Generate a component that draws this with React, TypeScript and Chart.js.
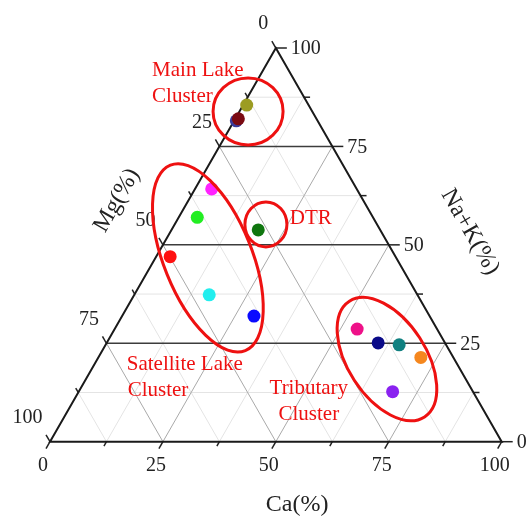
import { useEffect, useRef } from "react";
import { Chart, registerables } from "chart.js";

Chart.register(...registerables);

// ---- Data (ternary: Ca, Mg, Na+K in %) ----
const SAMPLE_CA = [0.5, 0.8, 0.7, 3.7, 4.1, 19.2, 3.1, 16.6, 29.2, 53.7, 60.1, 65.0, 71.4, 69.5];
const SAMPLE_MG = [18.0, 13.7, 17.3, 32.1, 38.9, 27.0, 49.9, 46.1, 38.9, 17.7, 14.8, 10.4, 7.2, 17.8];
const SAMPLE_NAK = [81.5, 85.5, 82.0, 64.2, 57.0, 53.8, 47.0, 37.3, 31.9, 28.6, 25.1, 24.6, 21.4, 12.7];
const SAMPLE_COLORS = [
  "#3a3a9a", "#9c9c22", "#7a0a12", "#ff22ff", "#22ee22", "#0f760f", "#ff1010",
  "#22eeee", "#0a0aff", "#ee1188", "#0a0a88", "#108080", "#f5871e", "#8a22f0",
];

const TICK_VALUES = [0, 25, 50, 75, 100];
const TICK_LABELS = ["0", "25", "50", "75", "100"];
const MINOR_STEPS = [0, 12.5, 25, 37.5, 50, 62.5, 75, 87.5, 100];

// Cluster annotations: centre in ternary (Ca, Na+K)
const CLUSTER_NAMES = ["Main Lake", "DTR", "Satellite Lake", "Tributary"];
const CLUSTER_CA = [1.9, 20.2, 11.6, 64.1];
const CLUSTER_NAK = [83.9, 55.2, 46.7, 21.0];

const FONT = "'Liberation Serif', 'Times New Roman', serif";
const RED = "#ee1111";

function toXY(ca: number, nak: number) {
  return { x: ca + nak / 2, y: nak };
}

const ternaryPlugin = {
  id: "ternary",
  beforeDatasetsDraw(chart: any) {
    const { ctx } = chart;
    const xs = chart.scales.x;
    const ys = chart.scales.y;
    const P = (ca: number, nak: number) => {
      const p = toXY(ca, nak);
      return [xs.getPixelForValue(p.x), ys.getPixelForValue(p.y)];
    };
    const line = (a: number[], b: number[], color: string, w: number) => {
      ctx.beginPath();
      ctx.moveTo(a[0], a[1]);
      ctx.lineTo(b[0], b[1]);
      ctx.strokeStyle = color;
      ctx.lineWidth = w;
      ctx.stroke();
    };
    ctx.save();
    const inner = MINOR_STEPS.filter((v) => v > 0 && v < 100);
    inner.forEach((v) => {
      if (v % 25 === 0) return;
      line(P(0, v), P(100 - v, v), "#e4e4e4", 1);
      line(P(v, 0), P(v, 100 - v), "#e4e4e4", 1);
      line(P(100 - v, 0), P(0, 100 - v), "#e4e4e4", 1);
    });
    inner.forEach((v) => {
      if (v % 25 !== 0) return;
      line(P(v, 0), P(v, 100 - v), "#a9a9a9", 1);
      line(P(100 - v, 0), P(0, 100 - v), "#a9a9a9", 1);
    });
    inner.forEach((v) => {
      if (v % 25 !== 0) return;
      line(P(0, v), P(100 - v, v), "#3c3c3c", 1.5);
    });
    const c60 = 0.5, s60 = Math.sqrt(3) / 2;
    MINOR_STEPS.forEach((t) => {
      const major = t % 25 === 0;
      const r = P(100 - t, t);
      line(r, [r[0] + (major ? 11 : 6), r[1]], "#222", 1.5);
      const l = P(0, 100 - t);
      const ll = major ? 8 : 5;
      line(l, [l[0] - c60 * ll, l[1] - s60 * ll], "#222", 1.5);
      const b = P(t, 0);
      line(b, [b[0] - c60 * ll, b[1] + s60 * ll], "#222", 1.5);
    });
    const A = P(0, 0), B = P(100, 0), C = P(0, 100);
    ctx.beginPath();
    ctx.moveTo(A[0], A[1]);
    ctx.lineTo(B[0], B[1]);
    ctx.lineTo(C[0], C[1]);
    ctx.closePath();
    ctx.strokeStyle = "#1a1a1a";
    ctx.lineWidth = 2;
    ctx.stroke();

    ctx.fillStyle = "#222";
    ctx.font = `20px ${FONT}`;
    ctx.textBaseline = "middle";
    TICK_VALUES.forEach((t, i) => {
      const lab = TICK_LABELS[i];
      const r = P(100 - t, t);
      ctx.textAlign = "left";
      ctx.fillText(lab, r[0] + 15, r[1] + 1);
      const l = P(0, 100 - t);
      ctx.textAlign = "right";
      ctx.fillText(lab, l[0] - 7.5, l[1] - 24);
      const b = P(t, 0);
      ctx.textAlign = "center";
      ctx.fillText(lab, b[0] - 7, b[1] + 24);
    });

    const pix = (x: number, y: number) => [xs.getPixelForValue(x), ys.getPixelForValue(y)];
    ctx.font = `24px ${FONT}`;
    ctx.textAlign = "center";
    const ca = pix(54.7, -16.1);
    ctx.fillText("Ca(%)", ca[0], ca[1]);
    const mg = pix(14.8, 61.3);
    ctx.save();
    ctx.translate(mg[0], mg[1]);
    ctx.rotate(-Math.PI / 3);
    ctx.fillText("Mg(%)", 0, 0);
    ctx.restore();
    const nk = pix(93.0, 53.3);
    ctx.save();
    ctx.translate(nk[0], nk[1]);
    ctx.rotate(Math.PI / 3);
    ctx.fillText("Na+K(%)", 0, 0);
    ctx.restore();
    ctx.restore();
  },
  afterDatasetsDraw(chart: any) {
    const { ctx } = chart;
    const xs = chart.scales.x;
    const ys = chart.scales.y;
    const P = (ca: number, nak: number) => {
      const p = toXY(ca, nak);
      return [xs.getPixelForValue(p.x), ys.getPixelForValue(p.y)];
    };
    const pix = (x: number, y: number) => [xs.getPixelForValue(x), ys.getPixelForValue(y)];
    ctx.save();
    ctx.strokeStyle = RED;
    ctx.lineWidth = 3;
    const shapes = [
      [35, 33.5, 0],
      [21, 22.5, 0],
      [44, 100, -22],
      [39, 69, -33],
    ];
    CLUSTER_NAMES.forEach((_, i) => {
      const c = P(CLUSTER_CA[i], CLUSTER_NAK[i]);
      const s = shapes[i];
      ctx.beginPath();
      ctx.ellipse(c[0], c[1], s[0], s[1], (s[2] * Math.PI) / 180, 0, Math.PI * 2);
      ctx.stroke();
    });
    ctx.fillStyle = RED;
    ctx.font = `21px ${FONT}`;
    ctx.textBaseline = "middle";
    const put = (t: string, x: number, y: number, align: CanvasTextAlign) => {
      const p = pix(x, y);
      ctx.textAlign = align;
      ctx.fillText(t, p[0], p[1]);
    };
    put("Main Lake", 22.6, 94.4, "left");
    put("Cluster", 22.6, 87.6, "left");
    put("DTR", 53.1, 56.6, "left");
    put("Satellite Lake", 17.0, 19.5, "left");
    put("Cluster", 17.2, 13.1, "left");
    put("Tributary", 57.3, 13.6, "center");
    put("Cluster", 57.3, 6.8, "center");
    ctx.restore();
  },
};

export default function App() {
  const ref = useRef<HTMLCanvasElement>(null);
  useEffect(() => {
    if (!ref.current) return;
    const points = SAMPLE_CA.map((ca, i) => toXY(ca, SAMPLE_NAK[i]));
    const chart = new Chart(ref.current, {
      type: "scatter",
      data: {
        datasets: [
          {
            label: "Samples",
            data: points,
            pointRadius: 6.5,
            pointHoverRadius: 6.5,
            pointBorderWidth: 0,
            backgroundColor: SAMPLE_COLORS,
            borderColor: SAMPLE_COLORS,
          },
        ],
      },
      options: {
        responsive: false,
        animation: false,
        devicePixelRatio: 1,
        layout: { padding: { left: 50, right: 24.3, top: 48, bottom: 75.3 } },
        scales: {
          x: { type: "linear", min: 0, max: 100, display: false },
          y: { type: "linear", min: 0, max: 100, display: false },
        },
        plugins: { legend: { display: false }, tooltip: { enabled: false } },
      },
      plugins: [ternaryPlugin],
    });
    return () => chart.destroy();
  }, []);
  return (
    <div style={{ position: "absolute", left: 0, top: 0, width: 526, height: 517, background: "#fff" }}>
      <canvas ref={ref} width={526} height={517} />
    </div>
  );
}
